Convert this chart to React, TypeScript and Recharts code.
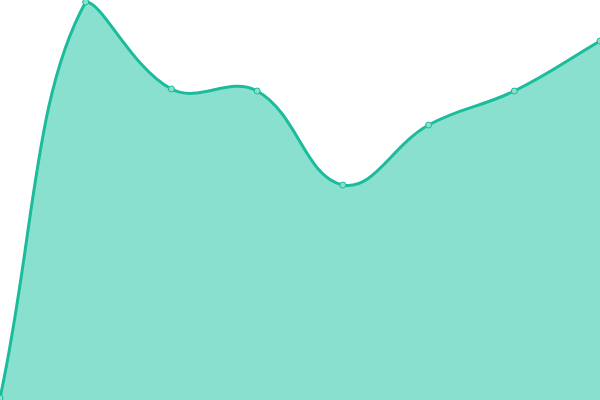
import React from "react";
import { AreaChart, Area, XAxis, YAxis } from "recharts";

const categories = ["A", "B", "C", "D", "E", "F", "G", "H"];
const values = [2, 398, 311, 309, 215, 275, 309, 359];

const data = categories.map((c, i) => ({ name: c, value: values[i] }));

const W = 600;
const H = 400;
const TENSION = 0.4;

// Bezier spline with tension (control points capped to the plot area)
function tensionCurve(context: any) {
  let pts: [number, number][] = [];
  let line = NaN;
  const clampX = (v: number) => Math.max(0, Math.min(W, v));
  const clampY = (v: number) => Math.max(0, Math.min(H, v));
  return {
    areaStart() {
      line = 0;
    },
    areaEnd() {
      line = NaN;
    },
    lineStart() {
      pts = [];
    },
    point(x: number, y: number) {
      pts.push([+x, +y]);
    },
    lineEnd() {
      const n = pts.length;
      if (n > 0) {
        const cps = pts.map((p, i) => {
          const prev = pts[Math.max(0, i - 1)];
          const next = pts[Math.min(n - 1, i + 1)];
          const d01 = Math.hypot(p[0] - prev[0], p[1] - prev[1]);
          const d12 = Math.hypot(next[0] - p[0], next[1] - p[1]);
          let s01 = d01 / (d01 + d12);
          let s12 = d12 / (d01 + d12);
          if (isNaN(s01)) s01 = 0;
          if (isNaN(s12)) s12 = 0;
          const fa = TENSION * s01;
          const fb = TENSION * s12;
          return {
            c1x: clampX(p[0] - fa * (next[0] - prev[0])),
            c1y: clampY(p[1] - fa * (next[1] - prev[1])),
            c2x: clampX(p[0] + fb * (next[0] - prev[0])),
            c2y: clampY(p[1] + fb * (next[1] - prev[1])),
          };
        });
        if (line) context.lineTo(pts[0][0], pts[0][1]);
        else context.moveTo(pts[0][0], pts[0][1]);
        for (let i = 1; i < n; i++) {
          context.bezierCurveTo(
            cps[i - 1].c2x,
            cps[i - 1].c2y,
            cps[i].c1x,
            cps[i].c1y,
            pts[i][0],
            pts[i][1]
          );
        }
      }
      if (line) context.closePath();
      if (!isNaN(line)) line = 1 - line;
    },
  };
}

export default function App() {
  return (
    <div style={{ position: "fixed", left: 0, top: 0, width: 600, height: 400 }}>
      <AreaChart width={600} height={400} data={data} margin={{ top: 0, right: 0, bottom: 0, left: 0 }}>
        <XAxis dataKey="name" hide />
        <YAxis hide domain={[0, 400]} />
        <Area
          type={tensionCurve as any}
          dataKey="value"
          stroke="#1abc9c"
          strokeWidth={3}
          fill="#8ae0ce"
          fillOpacity={1}
          dot={{ r: 3, fill: "#8ae0ce", stroke: "#1abc9c", strokeWidth: 1 }}
          activeDot={false}
          isAnimationActive={false}
        />
      </AreaChart>
    </div>
  );
}
